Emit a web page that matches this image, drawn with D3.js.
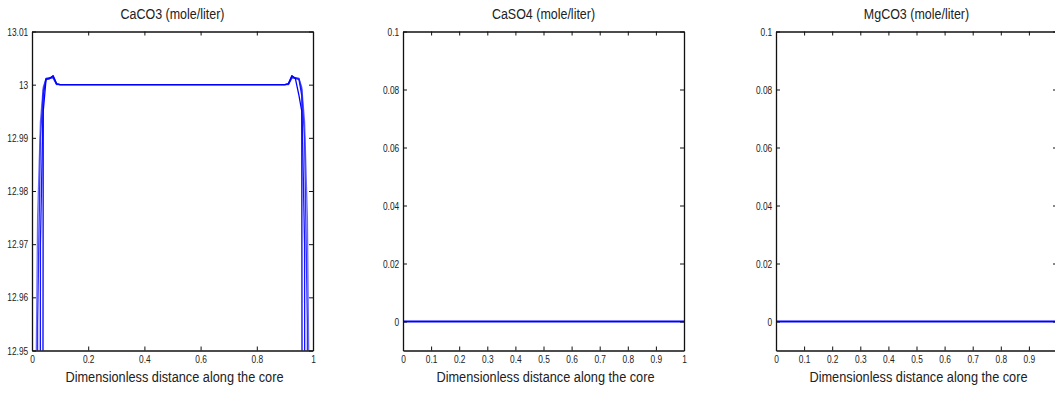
<!DOCTYPE html>
<html>
<head>
<meta charset="utf-8">
<script src="https://cdn.jsdelivr.net/npm/d3@7"></script>
<style>
  body { margin: 0; background: #fff; }
  svg { display: block; }
  .tick text { font-family: "Liberation Sans", Arial, sans-serif; font-size: 11px; fill: #222; }
  .title, .xlabel { font-family: "Liberation Sans", Arial, sans-serif; fill: #222; }
</style>
</head>
<body>
<svg id="chart"></svg>
<script>
//Data
//shared grid along the core used by every CaCO3 profile
const caco3X = [0, 0.01, 0.02, 0.03, 0.04, 0.05, 0.0625, 0.075, 0.0875, 0.1, 0.5,
                0.9, 0.9125, 0.925, 0.9375, 0.95, 0.96, 0.97, 0.98, 0.99, 1];
//one array per saved time level (values below 12.95 run off the plot)
const caco3Run1 = [11.8, 12.0, 12.2, 12.5, 12.995, 13.0010, 13.0011, 13.0017, 13.0002, 13.0, 13.0,
                   13.0, 13.0002, 13.0017, 13.0011, 12.998, 12.995, 12.5, 12.2, 12.0, 11.8];
const caco3Run2 = [11.9, 12.1, 12.4, 12.97, 12.998, 13.0011, 13.0012, 13.0016, 13.0001, 13.0, 13.0,
                   13.0, 13.0001, 13.0016, 13.0012, 13.0010, 12.998, 12.97, 12.4, 12.1, 11.9];
const caco3Run3 = [12.0, 12.3, 12.955, 12.99, 12.999, 13.0012, 13.0013, 13.0014, 13.0001, 13.0, 13.0,
                   13.0, 13.0001, 13.0014, 13.0013, 13.0012, 12.999, 12.99, 12.955, 12.3, 12.0];
const caco3Run4 = [12.2, 12.92, 12.975, 12.993, 12.9995, 13.0011, 13.0012, 13.0012, 13.0, 13.0, 13.0,
                   13.0, 13.0, 13.0012, 13.0012, 13.0011, 12.9995, 12.993, 12.975, 12.92, 12.2];
const caco3Runs = [caco3Run1, caco3Run2, caco3Run3, caco3Run4];
const caco3Colors = ['#0000ff', '#1414ff', '#3030ff', '#6a6aff'];

const caso4X = [0, 1];
const caso4 = [0, 0];
const mgco3X = [0, 1];
const mgco3 = [0, 0];

//Tick values
const caco3XTicks = [0, 0.2, 0.4, 0.6, 0.8, 1];
const caco3YTicks = [12.95, 12.96, 12.97, 12.98, 12.99, 13, 13.01];
const tenthTicks = [0, 0.1, 0.2, 0.3, 0.4, 0.5, 0.6, 0.7, 0.8, 0.9, 1];
const smallYTicks = [0, 0.02, 0.04, 0.06, 0.08, 0.1];

//Titles
const titles = ['CaCO3 (mole/liter)', 'CaSO4 (mole/liter)', 'MgCO3 (mole/liter)'];
const xTitle = 'Dimensionless distance along the core';

//Setting up canvas
let width = 1055;
let height = 396;
let svg = d3.select('#chart')
    .attr('width', width)
    .attr('height', height);

//axes boxes (left edge of each panel), shared top / bottom
let boxTop = 31.5;
let boxBottom = 350.5;
let boxW = 281;
let lefts = [32, 403, 776];
//the original figure uses a narrow face, so squeeze the text horizontally
let squeeze = 0.86;
let tickSqueeze = 0.76;

let panels = [
    {title: titles[0], xTicks: caco3XTicks, yTicks: caco3YTicks, yDomain: [12.95, 13.01],
     series: caco3Runs.map((run, i) => ({x: caco3X, y: run, color: caco3Colors[i], w: 1.3}))},
    {title: titles[1], xTicks: tenthTicks, yTicks: smallYTicks, yDomain: [-0.01, 0.1],
     series: [{x: caso4X, y: caso4, color: '#0000ff', w: 2}]},
    {title: titles[2], xTicks: tenthTicks, yTicks: smallYTicks, yDomain: [-0.01, 0.1],
     series: [{x: mgco3X, y: mgco3, color: '#0000ff', w: 2}]}
];

let fmt = d => d3.format('')(+d.toFixed(4));

panels.forEach((p, i) => {
    let left = lefts[i];
    let xScale = d3.scaleLinear().domain([0, 1]).range([left, left + boxW]);
    let yScale = d3.scaleLinear().domain(p.yDomain).range([boxBottom, boxTop]);

    let g = svg.append('g');

    //clip so the steep ends of the profiles stay inside the box
    g.append('clipPath')
        .attr('id', 'clip' + i)
        .append('rect')
        .attr('x', left)
        .attr('y', boxTop)
        .attr('width', boxW)
        .attr('height', boxBottom - boxTop);

    let line = d3.line()
        .x(d => xScale(d[0]))
        .y(d => yScale(d[1]));

    g.append('g')
        .attr('clip-path', 'url(#clip' + i + ')')
        .selectAll('path')
        .data(p.series.slice().reverse())
        .enter()
        .append('path')
        .attr('d', s => line(s.x.map((x, k) => [x, s.y[k]])))
        .attr('fill', 'none')
        .attr('stroke', s => s.color)
        .attr('stroke-width', s => s.w)
        .attr('stroke-linejoin', 'round');

    //labels that would land past the window edge are left off (as in the figure)
    let xFmt = d => xScale(d) > width ? '' : fmt(d);

    //ticks point inwards on all four sides, labels only on left / bottom
    let axes = [
        {ax: d3.axisBottom(xScale).tickValues(p.xTicks).tickFormat(xFmt), t: 'translate(0,' + boxBottom + ')'},
        {ax: d3.axisTop(xScale).tickValues(p.xTicks).tickFormat(''), t: 'translate(0,' + boxTop + ')'},
        {ax: d3.axisLeft(yScale).tickValues(p.yTicks).tickFormat(fmt), t: 'translate(' + left + ',0)'},
        {ax: d3.axisRight(yScale).tickValues(p.yTicks).tickFormat(''), t: 'translate(' + (left + boxW) + ',0)'}
    ];
    axes.forEach(a => {
        let gA = g.append('g')
            .attr('transform', a.t)
            .call(a.ax.tickSizeInner(-4).tickSizeOuter(0).tickPadding(5));
        gA.select('.domain').attr('stroke', '#111').attr('stroke-width', 1.3);
        gA.selectAll('.tick line').attr('stroke', '#111');
    });
    g.selectAll('.tick text')
        .attr('font-family', null)
        .attr('font-size', null)
        .attr('transform', 'scale(' + tickSqueeze + ',1)');

    //Titles
    g.append('text')
        .attr('class', 'title')
        .attr('transform', 'translate(' + (left + boxW / 2) + ',19) scale(' + squeeze + ',1)')
        .attr('text-anchor', 'middle')
        .style('font-size', '14.5px')
        .text(p.title);

    g.append('text')
        .attr('class', 'xlabel')
        .attr('transform', 'translate(' + (left + boxW / 2 + 2) + ',382) scale(' + (squeeze - 0.01) + ',1)')
        .attr('text-anchor', 'middle')
        .style('font-size', '15px')
        .text(xTitle);
});
</script>
</body>
</html>
